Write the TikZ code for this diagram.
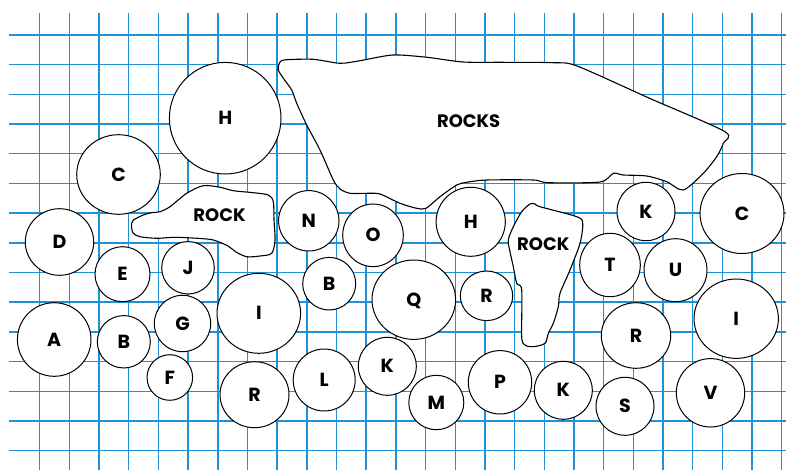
\documentclass[tikz,border=0pt]{standalone}
\usepackage{fontspec}
\setmainfont{Poppins}
\usetikzlibrary{shapes.geometric}
\definecolor{gridblue}{RGB}{28,146,216}
\begin{document}
\begin{tikzpicture}[x=1pt,y=-1pt,
  gridline/.style={draw=gridblue, line width=1.45pt},
  ball/.style={draw=black, fill=white, ellipse, line width=1pt, inner sep=0pt,
    font=\fontsize{19}{19}\selectfont\bfseries, text height=13.3pt, text depth=0pt},
  rock/.style={draw=black, fill=white, line width=1.1pt},
  rocklabel/.style={inner sep=0pt, font=\fontsize{18}{18}\selectfont\bfseries,
    text height=12.8pt, text depth=0pt}]
\useasboundingbox (0,0) rectangle (786,470);
\fill[white] (0,0) rectangle (786,470);
% grid
\foreach \k in {0,...,25} \draw[gridline] ({39.7+29.68*\k},13) -- ({39.7+29.68*\k},470);
\foreach \k in {0,...,14} \draw[gridline] (9,{35+29.69*\k}) -- (786,{35+29.69*\k});
% big rocks
\draw[rock] plot[smooth cycle, tension=0.45] coordinates {
  (279,64) (284,60) (313,59.3) (340,63.3) (360,60.7) (393,55) (427,57.3) (463,62)
  (503,62.3) (553,62.7) (577,66) (650,98.5) (725,131.7) (723.3,143.3) (716.7,156.7)
  (703.3,173.3) (683.3,190) (666.7,181.7) (646.7,176) (623.3,175) (613.3,173.3)
  (600,182) (548.3,182.7) (533.3,180) (486.7,180) (466.7,182.3) (456.7,185)
  (440,196.7) (426,208.3) (416.7,208.3) (400,203.3) (380,194) (366.7,193.3) (350,193.3)
  (340,189) (333.3,180) (320,150) (306.7,125) (296.7,103.3) (291.7,90) (283.3,78.3) (278.3,70)};
\node[rocklabel] (rocks) at (468.7,121) {ROCKS};
% left rock
\draw[rock] plot[smooth cycle, tension=0.5] coordinates {
  (131.7,223.3) (133.3,220) (143.3,215) (151.7,212.7) (160,211.7) (170,206.7)
  (186.7,193.3) (203.3,185.7) (220,187.3) (233.3,190.7) (253.3,192.7) (268.3,195)
  (273.3,201.7) (274,220) (275,240) (271.7,253.3) (260,256) (246.7,256.7) (236,252)
  (228,246) (213.3,240) (200,238.5) (186.7,237.7) (173.3,237.3) (156.7,238.3)
  (140,236.7) (133.3,233.3) (131.7,228.3)};
\node[rocklabel] (rockl) at (219.5,215) {ROCK};
% right rock
\draw[rock] plot[smooth cycle, tension=0.5] coordinates {
  (530,204) (535,204) (540,206.7) (576.7,216.7) (582.7,223.3) (580,243.3) (570,270)
  (560,293.3) (558.3,306.7) (553.3,323.3) (548.3,333.3) (545,343.3) (533.3,346.7)
  (525,345) (521.7,336.7) (521.7,290) (516.7,283.3) (513.3,266.7) (510,251.7)
  (508.3,240) (513.3,226.7) (521.7,211.7)};
\node[rocklabel] (rockr) at (543.3,244.3) {ROCK};
% circles
\node[ball, minimum width=111.6pt, minimum height=111.6pt] (h1) at (225.2,118.2) {H};
\node[ball, minimum width=83.6pt, minimum height=79.6pt] (c1) at (118.5,174.5) {C};
\node[ball, minimum width=68.4pt, minimum height=66.6pt] (d) at (59.5,242) {D};
\node[ball, minimum width=55pt, minimum height=55pt] (e) at (122.5,274.2) {E};
\node[ball, minimum width=52.6pt, minimum height=52.4pt] (j) at (188,267.8) {J};
\node[ball, minimum width=73.6pt, minimum height=73.6pt] (a) at (54.2,339.5) {A};
\node[ball, minimum width=53pt, minimum height=52.4pt] (b1) at (123.8,341.8) {B};
\node[ball, minimum width=56.4pt, minimum height=56.4pt] (g) at (182.5,323.5) {G};
\node[ball, minimum width=45.6pt, minimum height=45.6pt] (f) at (169.8,377.5) {F};
\node[ball, minimum width=83.6pt, minimum height=80pt] (i1) at (258.8,313.3) {I};
\node[ball, minimum width=69pt, minimum height=66pt] (r1) at (254.5,394.7) {R};
\node[ball, minimum width=62pt, minimum height=62pt] (l) at (324.2,380) {L};
\node[ball, minimum width=53pt, minimum height=52.6pt] (b2) at (329.2,283.7) {B};
\node[ball, minimum width=83.6pt, minimum height=79.4pt] (q) at (413.8,299.7) {Q};
\node[ball, minimum width=58pt, minimum height=58pt] (k1) at (387.3,366.3) {K};
\node[ball, minimum width=55pt, minimum height=54.4pt] (m) at (436.3,402.5) {M};
\node[ball, minimum width=60.4pt, minimum height=60.4pt] (n) at (308.8,220.8) {N};
\node[ball, minimum width=60.6pt, minimum height=62.6pt] (o) at (373,235.3) {O};
\node[ball, minimum width=69.2pt, minimum height=69pt] (h2) at (470.7,221.8) {H};
\node[ball, minimum width=52.4pt, minimum height=49.6pt] (r2) at (486.5,295.8) {R};
\node[ball, minimum width=58pt, minimum height=58.4pt] (k2) at (646,211.5) {K};
\node[ball, minimum width=84pt, minimum height=80pt] (c2) at (742,213.5) {C};
\node[ball, minimum width=60.6pt, minimum height=63.4pt] (t) at (610,265) {T};
\node[ball, minimum width=63pt, minimum height=63pt] (u) at (675.5,270.2) {U};
\node[ball, minimum width=84.4pt, minimum height=79.4pt] (i2) at (736.2,318.7) {I};
\node[ball, minimum width=69.4pt, minimum height=65.6pt] (r3) at (636,335.5) {R};
\node[ball, minimum width=63.4pt, minimum height=63.4pt] (p) at (500,382.3) {P};
\node[ball, minimum width=58pt, minimum height=58pt] (k3) at (563.3,390.3) {K};
\node[ball, minimum width=58pt, minimum height=58pt] (s) at (625,406.3) {S};
\node[ball, minimum width=68.4pt, minimum height=68.4pt] (v) at (710.5,392.8) {V};
\end{tikzpicture}
\end{document}
